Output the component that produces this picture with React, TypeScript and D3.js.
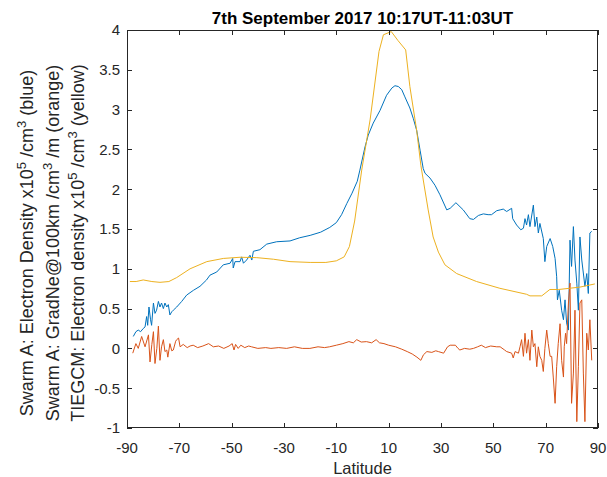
import React from "react";
import * as d3 from "d3";

const titleText = "7th September 2017 10:17UT-11:03UT";
const xLabel = "Latitude";
const xTicks = [-90, -70, -50, -30, -10, 10, 30, 50, 70, 90];
const yTicks = [-1, -0.5, 0, 0.5, 1, 1.5, 2, 2.5, 3, 3.5, 4];

// Swarm A electron density (blue) [latitude, value]
const swarmDensity: [number, number][] = [
  [-87.6, 0.15], [-86.6, 0.21], [-85.7, 0.23], [-84.8, 0.21], [-83.8, 0.25], [-83.1, 0.27],
  [-82.5, 0.4], [-82.1, 0.29], [-81.6, 0.52], [-81.0, 0.36], [-80.6, 0.29], [-79.9, 0.57],
  [-79.3, 0.44], [-78.7, 0.48], [-78.0, 0.59], [-77.4, 0.52], [-76.8, 0.57], [-76.1, 0.5],
  [-75.5, 0.57], [-74.8, 0.52], [-74.2, 0.55], [-73.6, 0.42], [-72.9, 0.46], [-72.3, 0.48],
  [-71.0, 0.52], [-69.1, 0.59], [-67.2, 0.67], [-64.6, 0.73], [-62.1, 0.78], [-59.6, 0.86],
  [-58.3, 0.92], [-55.7, 0.96], [-53.2, 1.05], [-50.6, 1.07], [-49.6, 1.13], [-49.4, 1.01],
  [-48.7, 1.09], [-46.8, 1.09], [-46.2, 1.15], [-45.5, 1.07], [-44.3, 1.11], [-43.0, 1.17],
  [-42.3, 1.11], [-41.7, 1.22], [-39.2, 1.24], [-36.6, 1.31], [-32.8, 1.34], [-27.7, 1.35],
  [-24, 1.39], [-20, 1.42], [-16, 1.46], [-12.5, 1.52], [-10, 1.58], [-8, 1.68], [-6, 1.82],
  [-4, 1.95], [-2, 2.1], [-1, 2.24], [0.95, 2.53], [2.2, 2.68], [4.1, 2.83], [6.7, 2.99],
  [9.2, 3.18], [11.2, 3.27], [12.4, 3.3], [13.7, 3.29], [15, 3.25], [16.2, 3.16], [18.1, 3.02],
  [19.4, 2.89], [20.7, 2.74], [22, 2.49], [23.2, 2.26], [23.9, 2.2], [25.8, 2.14], [27.7, 2.05],
  [29.6, 1.93], [32.2, 1.74], [33.5, 1.76], [35.7, 1.83], [38.5, 1.74], [41, 1.63], [42.4, 1.62],
  [44.3, 1.67], [46.2, 1.69], [48, 1.68], [49.3, 1.68], [51.3, 1.73], [52.6, 1.74], [53.8, 1.75],
  [55.1, 1.72], [57.0, 1.76], [57.4, 1.63], [58.9, 1.55], [60.5, 1.49], [61.5, 1.51], [62.1, 1.63],
  [62.7, 1.55], [63.4, 1.68], [64.0, 1.53], [65.3, 1.8], [65.9, 1.53], [66.6, 1.65], [67.2, 1.45],
  [67.8, 1.57], [69.1, 1.38], [69.7, 1.09], [70.4, 1.28], [71.7, 1.38], [72.7, 1.28], [73.6, 1.13],
  [74.2, 0.9], [74.5, 0.61], [75.2, 0.73], [76.1, 0.48], [76.8, 0.36], [77.4, 0.61], [78.0, 0.32],
  [78.7, 0.23], [79.3, 1.36], [79.9, 1.03], [80.6, 1.53], [81.2, 1.11], [81.9, 0.82], [82.5, 0.48],
  [83.1, 1.4], [83.8, 1.11], [85.0, 0.78], [85.7, 0.94], [86.3, 0.69], [86.9, 1.45], [87.6, 1.47],
];

// Swarm A gradient (orange)
const swarmGradient: [number, number][] = [
  [-87.8, -0.06], [-86.6, 0.06], [-85.7, 0.0], [-84.4, 0.15], [-83.1, 0.02], [-81.8, 0.17],
  [-81.2, -0.17], [-80.5, 0.05], [-79.9, 0.21], [-79.3, -0.19], [-78.6, 0.0], [-78.0, 0.28],
  [-77.4, -0.15], [-76.8, 0.02], [-76.1, 0.11], [-75.5, -0.04], [-74.8, -0.02], [-74.4, -0.11],
  [-73.6, 0.06], [-72.9, -0.03], [-72.3, -0.02], [-71.4, 0.09], [-71.0, 0.11], [-70.3, 0.13],
  [-69.7, 0.02], [-68.5, 0.05], [-67, 0.01], [-65.9, 0.03], [-64.7, 0.04], [-63, 0.01],
  [-61, 0.03], [-58.8, 0.06], [-57, 0.02], [-55, 0.03], [-53, 0.0], [-51, 0.03], [-49.8, 0.06],
  [-49.1, -0.02], [-48.5, 0.05], [-47.5, 0.0], [-46.5, 0.04], [-45, 0.01], [-43.5, 0.03],
  [-42.4, 0.02], [-40, 0.0], [-37, 0.01], [-35, 0.0], [-32, 0.01], [-29, 0.0], [-26, 0.02],
  [-23, 0.0], [-20.1, 0.0], [-17, 0.02], [-14.5, 0.01], [-12.6, 0.02], [-10, 0.04], [-7.5, 0.06],
  [-5.2, 0.085], [-3.5, 0.07], [-2.2, 0.11], [-0.5, 0.08], [1.5, 0.085], [3.5, 0.07], [5.2, 0.11],
  [6.5, 0.07], [8.2, 0.06], [10, 0.04], [12.6, 0.02], [15, -0.01], [17.1, -0.04], [19, -0.07],
  [20.8, -0.11], [22.3, -0.15], [23.3, -0.08], [24.6, -0.04], [26.5, -0.05], [28, -0.03],
  [29, -0.04], [31, -0.06], [32.5, 0.02], [33.5, 0.04], [35.5, 0.04], [36.5, 0.0], [37.2, -0.02],
  [39, 0.0], [41, -0.01], [42.4, 0.0], [44, 0.02], [45.4, 0.04], [47, 0.01], [49, 0.03],
  [51.3, 0.02], [52.6, 0.02], [54.3, -0.02], [55.1, -0.04], [57.0, -0.06], [57.6, -0.12],
  [58.3, -0.04], [59.6, -0.06], [60.2, 0.02], [60.8, 0.11], [61.5, -0.1], [62.1, 0.19],
  [62.7, -0.06], [63.4, 0.11], [64.0, -0.15], [64.7, 0.23], [65.3, 0.02], [65.9, 0.06],
  [66.6, -0.23], [67.2, 0.02], [67.8, -0.1], [68.5, -0.15], [69.1, -0.29], [69.7, 0.0],
  [70.4, 0.23], [71.0, 0.06], [71.7, -0.1], [72.3, -0.1], [72.9, -0.36], [73.6, -0.69],
  [74.2, -0.23], [74.8, 0.06], [75.5, 0.31], [76.1, -0.15], [76.8, -0.36], [77.1, 0.02],
  [77.6, 0.19], [78.0, 0.06], [78.7, 0.57], [79.3, 0.82], [79.9, -0.69], [80.6, -0.31],
  [81.2, 0.48], [81.9, -0.92], [82.5, -0.23], [83.1, 0.57], [83.8, 0.61], [84.4, -0.31],
  [85.0, -0.92], [85.7, 0.19], [86.3, -0.02], [86.9, 0.36], [87.6, -0.15],
];

// TIEGCM electron density (yellow)
const tiegcmDensity: [number, number][] = [
  [-88.9, 0.84], [-86.5, 0.84], [-83.8, 0.86], [-80.5, 0.84], [-77.4, 0.83], [-74, 0.84],
  [-71, 0.89], [-65.9, 1.0], [-59.5, 1.09], [-53.2, 1.13], [-46.8, 1.145], [-40.4, 1.14],
  [-34, 1.12], [-27.7, 1.09], [-20, 1.08], [-14, 1.08], [-10, 1.1], [-7, 1.15], [-5, 1.28],
  [-3, 1.6], [-0.3, 2.24], [2.9, 2.87], [6.3, 3.73], [8, 3.94], [11, 3.98], [13.5, 3.87],
  [16.5, 3.75], [18.1, 3.29], [20.7, 2.74], [22.3, 2.3], [25.1, 1.74], [27, 1.4], [29, 1.21],
  [31.5, 1.05], [36, 0.94], [43.6, 0.84], [52.5, 0.755], [62.7, 0.68], [64, 0.66], [68.5, 0.66],
  [71.6, 0.74], [75, 0.74], [83.1, 0.77], [88.8, 0.81],
];

const W = 607;
const H = 477;
const L = 127, R = 598, T = 30, B = 428;
const FONT = "'Liberation Sans', Arial, Helvetica, sans-serif";
const TXT = "#262626";

export default function App() {
  const x = d3.scaleLinear().domain([-90, 90]).range([L, R]);
  const y = d3.scaleLinear().domain([-1, 4]).range([B, T]);
  const line = d3.line<[number, number]>().x((d) => x(d[0])).y((d) => y(d[1]));
  const tl = 5;
  const yLabCy = 243;
  const sup = (s: string) => (
    <tspan fontSize="13" dy="-7">{s}</tspan>
  );
  const down = (s: string) => <tspan dy="7">{s}</tspan>;
  return (
    <div style={{ position: "absolute", left: 0, top: 0 }}>
      <svg width={W} height={H} style={{ display: "block", background: "#fff" }} fontFamily={FONT}>
        <rect x={0} y={0} width={W} height={H} fill="#fff" />
        <defs>
          <clipPath id="plotclip">
            <rect x={L} y={T} width={R - L} height={B - T} />
          </clipPath>
        </defs>
        <g clipPath="url(#plotclip)">
          <path d={line(swarmDensity) || ""} fill="none" stroke="#0072BD" strokeWidth={1} strokeLinejoin="round" />
          <path d={line(swarmGradient) || ""} fill="none" stroke="#D95319" strokeWidth={1} strokeLinejoin="round" />
          <path d={line(tiegcmDensity) || ""} fill="none" stroke="#EDB120" strokeWidth={1} strokeLinejoin="round" />
        </g>
        <rect x={L + 0.5} y={T + 0.5} width={R - L - 1} height={B - T - 1} fill="none" stroke={TXT} strokeWidth={1} />
        {xTicks.map((t) => (
          <g key={"x" + t}>
            <line x1={Math.round(x(t)) + 0.5} x2={Math.round(x(t)) + 0.5} y1={B} y2={B - tl} stroke={TXT} />
            <line x1={Math.round(x(t)) + 0.5} x2={Math.round(x(t)) + 0.5} y1={T} y2={T + tl} stroke={TXT} />
            <text x={x(t)} y={452.5} textAnchor="middle" fontSize="15" fill={TXT}>{t}</text>
          </g>
        ))}
        {yTicks.map((t) => (
          <g key={"y" + t}>
            <line x1={L} x2={L + tl} y1={Math.round(y(t)) + 0.5} y2={Math.round(y(t)) + 0.5} stroke={TXT} />
            <line x1={R} x2={R - tl} y1={Math.round(y(t)) + 0.5} y2={Math.round(y(t)) + 0.5} stroke={TXT} />
            <text x={120} y={y(t)} dy="0.36em" textAnchor="end" fontSize="15" fill={TXT}>{t}</text>
          </g>
        ))}
        <text x={(L + R) / 2} y={24} textAnchor="middle" fontSize="17" fontWeight="bold" fill="#000">{titleText}</text>
        <text x={(L + R) / 2} y={474} textAnchor="middle" fontSize="16.5" fill={TXT}>{xLabel}</text>
        <g fontSize="18" fill={TXT}>
          <text transform={`translate(27,${yLabCy}) rotate(-90)`} textAnchor="middle" dy="0.35em">
            Swarm A: Electron Density x10{sup("5")}{down(" /cm")}{sup("3")}{down(" (blue)")}
          </text>
          <text transform={`translate(53,${yLabCy}) rotate(-90)`} textAnchor="middle" dy="0.35em">
            Swarm A: GradNe@100km /cm{sup("3")}{down(" /m (orange)")}
          </text>
          <text transform={`translate(78,${yLabCy}) rotate(-90)`} textAnchor="middle" dy="0.35em">
            TIEGCM: Electron density x10{sup("5")}{down(" /cm")}{sup("3")}{down(" (yellow)")}
          </text>
        </g>
      </svg>
    </div>
  );
}
